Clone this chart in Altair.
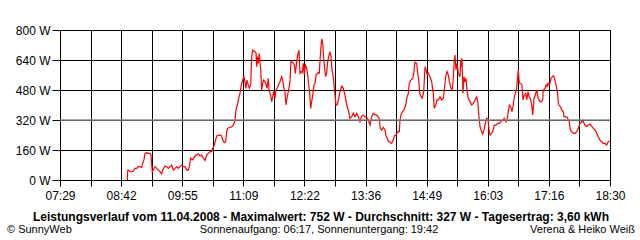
import json
import altair as alt
import pandas as pd

# Time in minutes of the day, power in W (segment by segment)
T1 = [529.9, 530.4, 531.1, 533.1, 535.2, 537.1, 539.1, 541.2, 543.1, 545.1, 547.2, 548.4, 550.0,
      551.2, 553.2, 555.1, 557.2, 558.4, 559.2, 559.9, 561.1, 563.2, 565.2, 567.1, 569.2, 571.2,
      572.4, 575.2, 577.2, 579.2, 581.2, 583.2, 585.2, 587.2, 589.3, 591.2, 593.2, 595.3, 597.2,
      599.2, 601.3, 603.2, 604.4, 606.1, 608.5, 610.0, 612.4, 615.2, 617.3, 619.3, 621.2, 623.3]
W1 = [0, 53, 53, 44, 44, 48, 62, 62, 71, 71, 67, 89, 110, 142, 146, 142, 142, 133, 80, 44, 53, 71,
      62, 53, 44, 32, 53, 75, 71, 62, 71, 80, 53, 62, 71, 62, 71, 80, 71, 71, 53, 53, 71, 116, 107,
      119, 133, 139, 128, 133, 116, 104]

T2 = [625.3, 627.2, 629.3, 631.3, 632.0, 634.4, 637.3, 641.3, 643.3, 644.5, 646.5, 648.1, 649.3,
      650.5, 653.3, 655.4, 657.3, 659.3, 660.5, 662.1, 663.3, 665.3, 667.4, 668.6, 670.1, 671.3,
      672.5, 673.7, 675.3, 676.5, 678.2, 679.4, 680.6, 682.2, 683.4, 684.6, 685.4, 686.1, 687.3,
      688.5, 690.2, 691.4, 692.6, 693.8, 695.4, 696.6, 697.8, 699.3, 700.5, 702.2, 703.4, 704.6,
      705.8, 707.4, 708.6, 710.2, 711.4, 713.4, 715.4, 716.6, 718.2, 719.4, 720.6, 721.8, 723.4,
      725.4]
W2 = [133, 142, 151, 151, 160, 187, 235, 240, 235, 213, 199, 204, 258, 275, 281, 284, 293, 320,
      373, 400, 427, 462, 516, 533, 551, 524, 489, 533, 507, 489, 507, 658, 693, 688, 684, 679,
      604, 658, 622, 676, 587, 480, 516, 533, 524, 507, 489, 542, 471, 453, 418, 444, 471, 436,
      480, 489, 507, 524, 551, 533, 489, 471, 400, 436, 471, 524]

T3 = [726.6, 728.2, 729.4, 730.6, 731.8, 733.5, 734.7, 736.2, 737.4, 738.6, 740.2, 741.4, 742.6,
      743.8, 745.5, 746.7, 747.9, 749.1, 750.3, 751.5, 752.7, 754.3, 755.5, 756.7, 758.2, 759.4,
      760.6, 761.5, 762.7, 763.5, 764.7, 765.9, 767.1, 768.3, 769.5, 770.7, 771.9, 773.5, 774.7,
      775.9, 777.5, 778.7, 779.5, 780.7, 782.3, 783.5, 785.5, 787.6, 789.5, 791.5, 793.6, 795.5,
      797.5, 799.6, 801.5, 803.5, 805.6, 807.5, 809.5, 811.6, 813.5, 815.6, 817.6, 819.5, 821.6,
      823.6, 825.5, 827.6]
W3 = [631, 628, 622, 613, 569, 631, 667, 693, 569, 578, 573, 622, 560, 613, 596, 560, 507, 462,
      382, 418, 453, 507, 516, 560, 569, 573, 569, 640, 711, 752, 729, 649, 596, 551, 569, 631,
      658, 684, 658, 587, 551, 489, 453, 400, 400, 427, 471, 501, 489, 453, 400, 373, 329, 338,
      356, 338, 356, 338, 311, 341, 347, 338, 334, 320, 293, 338, 356, 347]

T4 = [829.6, 831.5, 832.7, 833.9, 835.6, 837.5, 839.6, 840.8, 842.4, 843.6, 845.6, 847.6, 849.6,
      850.8, 852.8, 854.9, 856.8, 857.6, 858.8, 860.4, 862.4, 864.5, 865.7, 867.6, 868.8, 870.8,
      872.9, 874.1, 875.6, 877.7, 878.9, 880.1, 881.3, 882.9, 884.4, 886.1, 887.7, 888.9, 890.4,
      891.6, 893.7, 895.7, 897.6, 898.8, 900.5, 902.1, 903.7, 905.7, 907.7, 909.7, 910.9, 912.5,
      914.1, 915.7, 917.3, 918.9, 920.5, 921.7, 922.9, 923.7, 924.9, 926.1, 927.7, 929.7]
W4 = [347, 334, 329, 275, 267, 281, 267, 235, 222, 204, 204, 195, 213, 235, 240, 258, 258, 320,
      347, 364, 373, 400, 436, 462, 516, 533, 542, 569, 628, 622, 569, 533, 462, 444, 436, 471,
      604, 587, 560, 569, 551, 524, 462, 382, 400, 427, 427, 444, 427, 436, 480, 551, 578, 560,
      516, 489, 480, 551, 640, 667, 587, 622, 569, 551]

T5 = [930.6, 931.3, 932.1, 933.3, 934.5, 935.7, 936.9, 938.1, 939.7, 941.7, 943.8, 945.7, 947.8,
      949.8, 951.0, 952.2, 953.8, 955.8, 957.0, 958.6, 960.1, 961.8, 963.4, 964.6, 965.8, 967.8,
      969.7, 970.9, 973.0, 975.0, 977.0, 979.0, 981.0, 983.0, 985.0, 986.6, 987.8, 989.0, 990.7,
      992.2, 993.8, 995.0, 996.2, 997.9, 998.6, 999.8, 1001.0, 1002.7, 1004.2, 1005.4, 1007.0,
      1008.7, 1009.9, 1011.5, 1013.0, 1014.7, 1015.9, 1017.1, 1018.7, 1020.2, 1021.9, 1023.8,
      1025.9, 1027.9, 1029.1, 1029.8, 1031.9]
W5 = [640, 604, 649, 462, 551, 524, 542, 480, 436, 418, 400, 409, 427, 444, 418, 356, 284, 258,
      245, 267, 302, 329, 324, 267, 240, 249, 267, 293, 293, 302, 302, 311, 320, 329, 311, 329,
      364, 400, 391, 364, 400, 444, 462, 489, 533, 587, 516, 516, 507, 427, 453, 462, 427, 471,
      444, 427, 400, 347, 436, 453, 480, 436, 418, 418, 427, 480, 489]

T6 = [1033.1, 1034.3, 1035.5, 1036.7, 1037.9, 1039.1, 1040.7, 1042.3, 1043.9, 1045.1, 1046.3,
      1047.1, 1047.9, 1048.7, 1050.8, 1052.0, 1053.9, 1054.7, 1056.8, 1058.7, 1059.9, 1061.1,
      1062.3, 1064.0, 1065.9, 1067.9, 1070.0, 1071.9, 1073.9, 1076.0, 1077.9, 1079.9, 1082.0,
      1083.9, 1086.0, 1088.0, 1089.9, 1092.0, 1094.0, 1095.9, 1098.0, 1100.0, 1101.9, 1104.0,
      1106.0, 1107.9, 1110.0]
W6 = [507, 498, 516, 507, 516, 542, 551, 555, 533, 507, 480, 462, 409, 400, 388, 373, 364, 338,
      338, 334, 320, 311, 267, 258, 249, 249, 258, 275, 302, 311, 311, 293, 284, 293, 298, 288,
      275, 267, 249, 231, 213, 204, 195, 195, 187, 204, 208]

TICK_LABELS = ["07:29", "08:42", "09:55", "11:09", "12:22", "13:36", "14:49", "16:03", "17:16", "18:30"]
X_START, X_END = 449, 1110   # 07:29 .. 18:30 in minutes
Y_TICKS = [0, 160, 320, 480, 640, 800]
AVG_LINE = 320

TITLE = "Leistungsverlauf vom 11.04.2008 - Maximalwert: 752 W - Durchschnitt: 327 W - Tagesertrag: 3,60 kWh"
FOOT_LEFT = "© SunnyWeb"
FOOT_MID = "Sonnenaufgang: 06:17, Sonnenuntergang: 19:42"
FOOT_RIGHT = "Verena & Heiko Weiß"

times, watts = [], []
for T, W in [(T1, W1), (T2, W2), (T3, W3), (T4, W4), (T5, W5), (T6, W6)]:
    n = min(len(T), len(W))
    times += T[:n]
    watts += W[:n]
df = pd.DataFrame({"t": times, "w": watts, "i": list(range(len(times)))})

step = (X_END - X_START) / 18
x_ticks = [X_START + k * step for k in range(19)]
labels19 = [TICK_LABELS[k // 2] if k % 2 == 0 else "" for k in range(19)]
label_expr = json.dumps(labels19) + "[round((datum.value - %d) / %.6f)]" % (X_START, step)

FONT = "Liberation Sans"

x_scale = alt.Scale(domain=[X_START, X_END], nice=False, zero=False)
y_scale = alt.Scale(domain=[0, 800], nice=False, zero=True)

x_enc = alt.X("t:Q", scale=x_scale,
              axis=alt.Axis(values=x_ticks, labelExpr=label_expr, title=None, grid=True,
                            gridColor="black", gridOpacity=1, gridWidth=1,
                            tickColor="black", tickSize=6, domainColor="black",
                            labelColor="black", labelFontSize=12, labelFont=FONT,
                            labelPadding=4, labelFlush=False, labelOverlap=False))
y_enc = alt.Y("w:Q", scale=y_scale,
              axis=alt.Axis(values=Y_TICKS, labelExpr="datum.value + ' W'", title=None, grid=True,
                            gridColor="black", gridOpacity=1, gridWidth=1,
                            tickColor="black", tickSize=8, domainColor="black",
                            labelColor="black", labelFontSize=12, labelFont=FONT,
                            labelPadding=2, labelOverlap=False, labelFlush=False))

line = alt.Chart(df).mark_line(color="#ff0000", strokeWidth=1.2).encode(
    x=x_enc, y=y_enc, order="i:Q")

rule = alt.Chart(pd.DataFrame({"w": [AVG_LINE]})).mark_rule(color="#8a8a8a", strokeWidth=1.5).encode(
    y=y_enc)

title = alt.Chart(pd.DataFrame({"s": [TITLE]})).mark_text(
    font=FONT, fontSize=12, fontWeight="bold", align="center", baseline="alphabetic", color="black"
).encode(x=alt.value(261), y=alt.value(191), text="s:N")
f_left = alt.Chart(pd.DataFrame({"s": [FOOT_LEFT]})).mark_text(
    font=FONT, fontSize=11, align="left", baseline="alphabetic", color="black"
).encode(x=alt.value(-53), y=alt.value(203), text="s:N")
f_mid = alt.Chart(pd.DataFrame({"s": [FOOT_MID]})).mark_text(
    font=FONT, fontSize=11, align="center", baseline="alphabetic", color="black"
).encode(x=alt.value(259), y=alt.value(203), text="s:N")
f_right = alt.Chart(pd.DataFrame({"s": [FOOT_RIGHT]})).mark_text(
    font=FONT, fontSize=11, align="right", baseline="alphabetic", color="black"
).encode(x=alt.value(575), y=alt.value(203), text="s:N")

chart = alt.layer(line, rule, title, f_left, f_mid, f_right).properties(
    width=550, height=150,
    autosize=alt.AutoSizeParams(type="none"),
    padding={"left": 60, "top": 30, "right": 30, "bottom": 60},
    background="white",
).configure_view(stroke="black", strokeWidth=1)

chart.save("out.html", embed_options={"renderer": "svg", "actions": False})
